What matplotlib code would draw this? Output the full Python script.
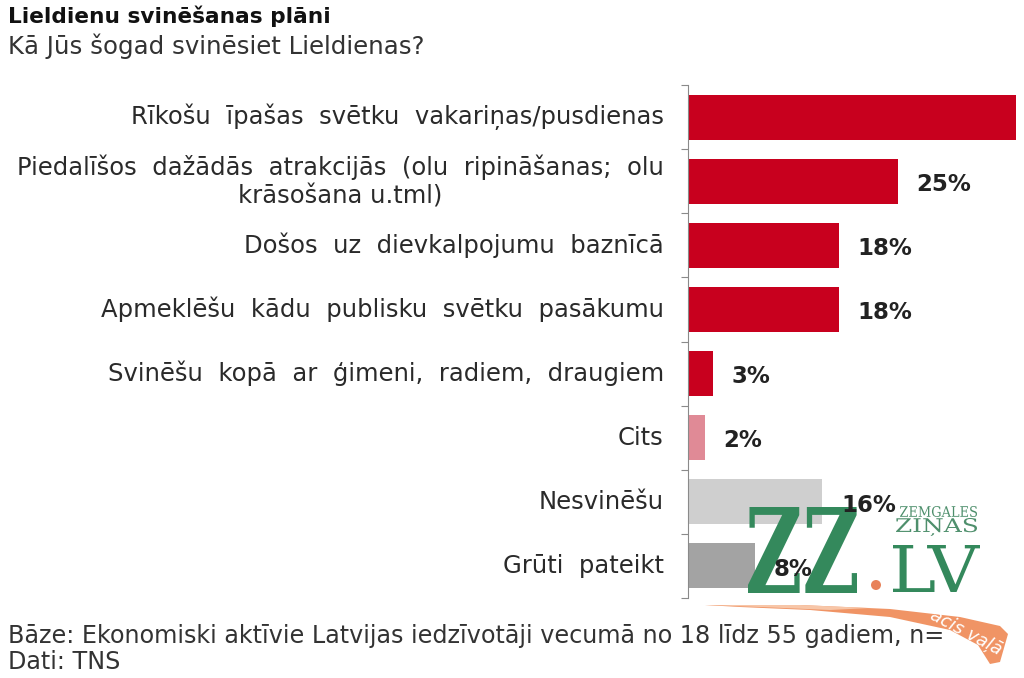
import matplotlib
matplotlib.use("Agg")
import matplotlib.pyplot as plt
import matplotlib.transforms as mtrans
from matplotlib.patches import Polygon, PathPatch, Circle
from matplotlib.textpath import TextPath
from matplotlib.font_manager import FontProperties

G = "  "  # wide word gap as in the reference
categories = [
    G.join(["Rīkošu", "īpašas", "svētku", "vakariņas/pusdienas"]),
    G.join(["Piedalīšos", "dažādās", "atrakcijās", "(olu", "ripināšanas;", "olu"]) + "\nkrāsošana u.tml)",
    G.join(["Došos", "uz", "dievkalpojumu", "baznīcā"]),
    G.join(["Apmeklēšu", "kādu", "publisku", "svētku", "pasākumu"]),
    G.join(["Svinēšu", "kopā", "ar", "ģimeni,", "radiem,", "draugiem"]),
    "Cits",
    "Nesvinēšu",
    G.join(["Grūti", "pateikt"]),
]
values = [39, 25, 18, 18, 3, 2, 16, 8]
value_labels = ["", "25%", "18%", "18%", "3%", "2%", "16%", "8%"]
colors = ["#C8001E", "#C8001E", "#C8001E", "#C8001E", "#C8001E",
          "#E08A96", "#CFCFCF", "#A3A3A3"]

title = "Lieldienu svinēšanas plāni"
subtitle = "Kā Jūs šogad svinēsiet Lieldienas?"
footer1 = "Bāze: Ekonomiski aktīvie Latvijas iedzīvotāji vecumā no 18 līdz 55 gadiem, n="
footer2 = "Dati: TNS"

plt.rcParams['font.family'] = ['DejaVu Sans']
W, H = 1024, 678
fig = plt.figure(figsize=(W / 100, H / 100), dpi=100)
ax = fig.add_axes([688 / W, 1 - 598 / H, (1024 - 688) / W, (598 - 85) / H])
n = len(categories)
ypos = list(range(n))
ax.barh(ypos, values, height=0.7, color=colors, zorder=2)
ax.set_ylim(n - 0.5, -0.5)
ax.set_xlim(0, 40)
for s in ["top", "right", "bottom"]:
    ax.spines[s].set_visible(False)
ax.spines["left"].set_color("#8A8A8A")
ax.set_xticks([])
ax.set_yticks([i - 0.5 for i in range(n + 1)])
ax.set_yticklabels([])
ax.tick_params(axis="y", length=5, color="#8A8A8A", direction="out")
for i, cat in enumerate(categories):
    ax.text(-2.9, i, cat, ha="right", va="center", fontsize=17.5,
            color="#2A2A2A", linespacing=1.22, multialignment="center")
for i, (v, lab) in enumerate(zip(values, value_labels)):
    if lab:
        ax.text(v + 2.2, i + 0.05, lab, ha="left", va="center", fontsize=16.5,
                fontweight="bold", color="#222222", zorder=4)

fig.text(8 / W, 1 - 16 / H, title, fontsize=15.6, fontweight="bold",
         color="#111111", va="center", ha="left")
fig.text(8 / W, 1 - 46 / H, subtitle, fontsize=17.6, color="#333333",
         va="center", ha="left")
fig.text(8 / W, 1 - 636 / H, footer1, fontsize=17.2, color="#333333",
         va="center", ha="left", zorder=1)
fig.text(8 / W, 1 - 662 / H, footer2, fontsize=17.2, color="#333333",
         va="center", ha="left", zorder=1)


# ---- watermark logo (drawn in pixel coordinates, y from top) ----
def box_text(s, x0, ytop, x1, ybot, fp, color, z):
    tp = TextPath((0, 0), s, size=100, prop=fp)
    bb = tp.get_extents()
    sx = (x1 - x0) / bb.width
    sy = (ybot - ytop) / bb.height
    tr = (mtrans.Affine2D().translate(-bb.x0, -bb.y0)
          .scale(sx, sy).translate(x0, H - ybot))
    p = PathPatch(tp, transform=tr, facecolor=color, edgecolor="none", zorder=z)
    ax.add_artist(p)
    p.set_clip_on(False)


def px(pts):
    return [(x, H - y) for x, y in pts]


green = "#34895C"
serif_b = FontProperties(family="DejaVu Serif", weight="bold")
serif = FontProperties(family="DejaVu Serif")

# swoosh
sw = Polygon(px([(705, 605), (800, 605), (890, 609), (960, 617), (1000, 626),
                 (1008, 634), (1000, 662), (990, 664), (978, 645), (950, 630),
                 (890, 617), (810, 610), (740, 607)]),
             closed=True, transform=mtrans.IdentityTransform(),
             facecolor="#EF8B58", edgecolor="none", alpha=0.92, zorder=3)
ax.add_artist(sw)
sw.set_clip_on(False)
sw2 = Polygon(px([(705, 605), (800, 605), (870, 608), (830, 610), (760, 607)]),
              closed=True, transform=mtrans.IdentityTransform(),
              facecolor="#F7C6A8", edgecolor="none", zorder=3.1)
ax.add_artist(sw2)
sw2.set_clip_on(False)
t = ax.text(966, H - 633, "acis vaļā", transform=mtrans.IdentityTransform(),
            fontsize=13, style="italic", color="white", rotation=-28,
            ha="center", va="center", zorder=3.2)
t.set_clip_on(False)

box_text("ZZ", 748, 507, 857, 593, serif_b, green, 3.3)
box_text("LV", 893, 545, 980, 592, serif, green, 3.3)
box_text("ZEMGALES", 900, 506, 977, 517, serif, "#4E8F6C", 3.3)
box_text("ZIŅAS", 896, 518, 977, 536, serif, "#4E8F6C", 3.3)
dot = Circle((876, H - 585), 5, transform=mtrans.IdentityTransform(),
             facecolor="#E8825A", edgecolor="none", zorder=3.3)
ax.add_artist(dot)
dot.set_clip_on(False)

fig.savefig("out.png", dpi=100)
